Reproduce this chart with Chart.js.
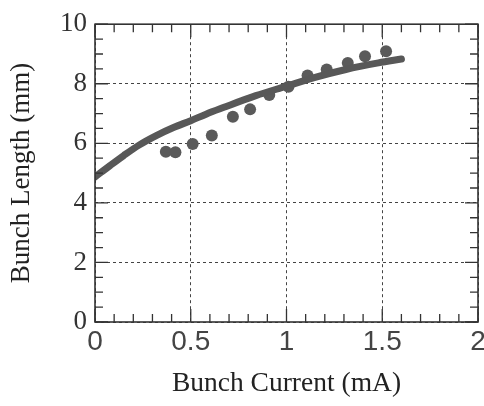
<!DOCTYPE html>
<html>
<head>
<meta charset="utf-8">
<script src="https://cdn.jsdelivr.net/npm/chart.js@4/dist/chart.umd.min.js"></script>
<style>
    html, body { margin: 0; padding: 0; background: #fff; }
    #wrap { width: 484px; height: 406px; }
</style>
</head>
<body>
<div id="wrap"><canvas id="bunchChart"></canvas></div>
<script>
// ================================
// 📊 Data
// ================================
const measuredCurrent = [0.37, 0.42, 0.51, 0.61, 0.72, 0.81, 0.91, 1.01, 1.11, 1.21, 1.32, 1.41, 1.52];
const measuredLength  = [5.72, 5.70, 5.98, 6.26, 6.89, 7.14, 7.62, 7.90, 8.28, 8.48, 8.70, 8.92, 9.09];

const fitCurrent = [0, 0.08, 0.15, 0.23, 0.32, 0.41, 0.50, 0.58, 0.67, 0.84, 1.00, 1.14, 1.31, 1.48, 1.60];
const fitLength  = [4.87, 5.26, 5.59, 5.94, 6.26, 6.53, 6.76, 6.98, 7.20, 7.60, 7.92, 8.20, 8.48, 8.70, 8.83];

const xTicks = [0, 0.5, 1, 1.5, 2];
const yTicks = [0, 2, 4, 6, 8, 10];

const toPoints = (xs, ys) => xs.map((x, i) => ({ x: x, y: ys[i] }));

// ================================
// 🖋️ Frame with inward ticks
// ================================
const frameTicks = {
    id: 'frameTicks',
    afterDatasetsDraw(chart) {
        const { ctx, chartArea: a, scales: { x, y } } = chart;
        ctx.save();
        ctx.strokeStyle = '#333';
        ctx.lineWidth = 1.3;
        ctx.beginPath();

        for (let i = 0; i <= 20; i++) {
            const px = x.getPixelForValue(i / 10);
            const len = i % 5 === 0 ? 13 : 8;
            ctx.moveTo(px, a.bottom); ctx.lineTo(px, a.bottom - len);
            ctx.moveTo(px, a.top);    ctx.lineTo(px, a.top + len);
        }
        for (let i = 0; i <= 20; i++) {
            const py = y.getPixelForValue(i / 2);
            const len = i % 4 === 0 ? 13 : 8;
            ctx.moveTo(a.left, py);  ctx.lineTo(a.left + len, py);
            ctx.moveTo(a.right, py); ctx.lineTo(a.right - len, py);
        }
        ctx.stroke();

        ctx.lineWidth = 1.6;
        ctx.strokeRect(a.left, a.top, a.right - a.left, a.bottom - a.top);
        ctx.restore();
    }
};

// ================================
// 📈 Chart
// ================================
function loadBunchChart() {
    const ctx = document.getElementById('bunchChart');

    new Chart(ctx, {
        type: 'scatter',
        data: {
            datasets: [{
                type: 'line',
                data: toPoints(fitCurrent, fitLength),
                borderColor: '#585858',
                borderWidth: 7,
                borderCapStyle: 'round',
                cubicInterpolationMode: 'monotone',
                pointRadius: 0,
                fill: false
            }, {
                data: toPoints(measuredCurrent, measuredLength),
                backgroundColor: '#5a5a5a',
                borderColor: '#555',
                borderWidth: 0,
                pointRadius: 6
            }]
        },
        options: {
            responsive: true,
            maintainAspectRatio: false,
            animation: false,
            layout: { padding: { top: 20, right: 0, left: 0, bottom: 0 } },
            plugins: {
                legend: { display: false },
                tooltip: { enabled: false }
            },
            scales: {
                x: {
                    type: 'linear',
                    min: 0,
                    max: 2,
                    afterBuildTicks: (s) => { s.ticks = xTicks.map(v => ({ value: v })); },
                    afterFit: (s) => { s.height = 84; s.paddingRight = 6; },
                    grid: { color: '#444', lineWidth: 1, drawTicks: false },
                    border: { display: false, dash: [3, 3] },
                    ticks: {
                        padding: 3,
                        color: '#444',
                        callback: (v) => String(v),
                        font: { family: 'Liberation Sans', size: 28 }
                    },
                    title: {
                        display: true,
                        text: 'Bunch Current (mA)',
                        color: '#222',
                        padding: { top: 0, bottom: 6 },
                        font: { family: 'Liberation Serif', size: 27.5 }
                    }
                },
                y: {
                    min: 0,
                    max: 10,
                    afterBuildTicks: (s) => { s.ticks = yTicks.map(v => ({ value: v })); },
                    afterFit: (s) => { s.width = 95; },
                    grid: { color: '#444', lineWidth: 1, drawTicks: false },
                    border: { display: false, dash: [3, 3] },
                    ticks: {
                        padding: 8,
                        color: '#333',
                        font: { family: 'Liberation Serif', size: 27 }
                    },
                    title: {
                        display: true,
                        text: 'Bunch Length (mm)',
                        color: '#222',
                        padding: { top: 6, bottom: 0 },
                        font: { family: 'Liberation Serif', size: 27 }
                    }
                }
            }
        },
        plugins: [frameTicks]
    });
}

document.addEventListener("DOMContentLoaded", () => {
    loadBunchChart();
});
</script>
</body>
</html>
